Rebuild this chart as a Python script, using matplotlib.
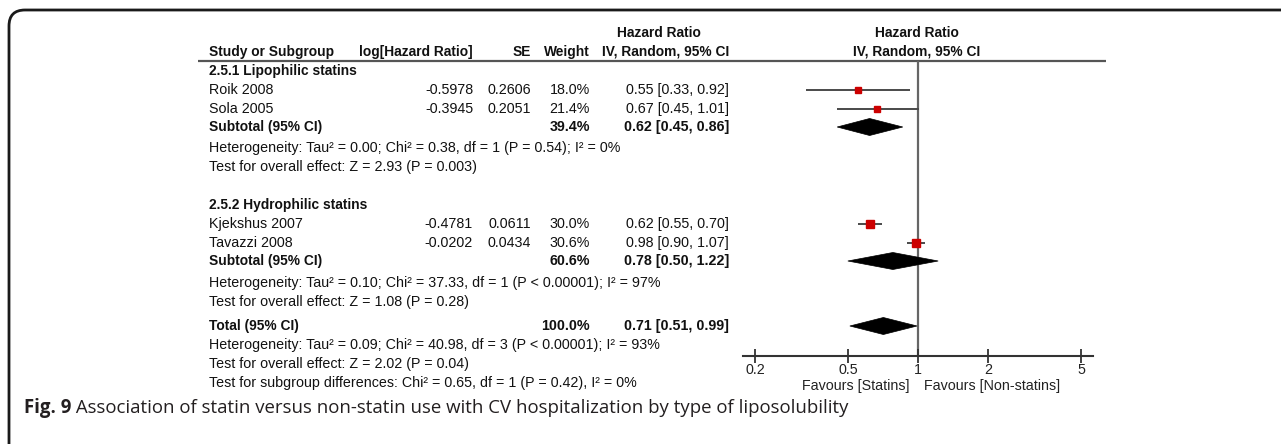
import matplotlib
matplotlib.use("Agg")
import matplotlib.pyplot as plt
from matplotlib.path import Path
from matplotlib.patches import PathPatch, Polygon
from matplotlib.ticker import FixedLocator, FixedFormatter, NullLocator

# ---------------- data ----------------
group_names = ["2.5.1 Lipophilic statins", "2.5.2 Hydrophilic statins"]
studies = ["Roik 2008", "Sola 2005", "Kjekshus 2007", "Tavazzi 2008"]
log_hr = [-0.5978, -0.3945, -0.4781, -0.0202]
se = [0.2606, 0.2051, 0.0611, 0.0434]
weight = [18.0, 21.4, 30.0, 30.6]
hr = [0.55, 0.67, 0.62, 0.98]
ci_low = [0.33, 0.45, 0.55, 0.90]
ci_high = [0.92, 1.01, 0.70, 1.07]

sub_weight = [39.4, 60.6]
sub_hr = [0.62, 0.78]
sub_low = [0.45, 0.50]
sub_high = [0.86, 1.22]

total_weight = 100.0
total_hr = 0.71
total_low = 0.51
total_high = 0.99

heterogeneity = [
    "Heterogeneity: Tau² = 0.00; Chi² = 0.38, df = 1 (P = 0.54); I² = 0%",
    "Heterogeneity: Tau² = 0.10; Chi² = 37.33, df = 1 (P < 0.00001); I² = 97%",
]
overall = [
    "Test for overall effect: Z = 2.93 (P = 0.003)",
    "Test for overall effect: Z = 1.08 (P = 0.28)",
]
total_het = "Heterogeneity: Tau² = 0.09; Chi² = 40.98, df = 3 (P < 0.00001); I² = 93%"
total_overall = "Test for overall effect: Z = 2.02 (P = 0.04)"
subgroup_test = "Test for subgroup differences: Chi² = 0.65, df = 1 (P = 0.42), I² = 0%"

tick_values = [0.2, 0.5, 1, 2, 5]
tick_labels = ["0.2", "0.5", "1", "2", "5"]
favours_left = "Favours [Statins]"
favours_right = "Favours [Non-statins]"
caption_bold = "Fig. 9"
caption_text = " Association of statin versus non-statin use with CV hospitalization by type of liposolubility"

# ---------------- layout (pixels) ----------------
W, H = 1281, 444
FONT = "Liberation Sans"
FS = 10.3
FS_HEAD = 9.9
TXT = "#111111"

group_y = [71, 205]
study_y = [90, 109, 224, 243]
sub_y = [127, 261]
het_y = [148, 283]
ovr_y = [167, 302]
total_y = 326
total_het_y = 345
total_ovr_y = 364
subgroup_y = 383
axis_y = 356
head_line_y = 61

x_name = 209
x_log = 473
x_se = 531
x_w = 590
x_ci = 729

fig = plt.figure(figsize=(W / 100, H / 100), dpi=100)
bg = fig.add_axes([0, 0, 1, 1])
bg.set_xlim(0, W)
bg.set_ylim(H, 0)
bg.axis("off")

def t(x, y, s, ha="left", bold=False, **kw):
    return bg.text(x, y, s, ha=ha, va="center", fontsize=kw.pop("fs", FS),
                   fontweight="bold" if bold else "normal",
                   family=kw.pop("family", FONT), color=kw.pop("color", TXT), **kw)

# frame with rounded corner
r = 16
frame = Path([(9, H + 2), (9, 10 + r), (9, 10), (9 + r, 10), (W + 2, 10)],
             [Path.MOVETO, Path.LINETO, Path.CURVE3, Path.CURVE3, Path.LINETO])
bg.add_patch(PathPatch(frame, fill=False, lw=2.0, edgecolor="#1a1a1a"))

# headers
t(659, 33, "Hazard Ratio", ha="center", bold=True, fs=FS_HEAD)
t(917, 33, "Hazard Ratio", ha="center", bold=True, fs=FS_HEAD)
t(x_name, 52, "Study or Subgroup", bold=True, fs=FS_HEAD)
t(x_log, 52, "log[Hazard Ratio]", ha="right", bold=True, fs=FS_HEAD)
t(x_se, 52, "SE", ha="right", bold=True, fs=FS_HEAD)
t(x_w, 52, "Weight", ha="right", bold=True, fs=FS_HEAD)
t(x_ci, 52, "IV, Random, 95% CI", ha="right", bold=True, fs=FS_HEAD)
t(917, 52, "IV, Random, 95% CI", ha="center", bold=True, fs=FS_HEAD)
bg.plot([198, 1106], [head_line_y, head_line_y], color="#555555", lw=1.6,
        solid_capstyle="butt")

# rows
for g in range(2):
    t(x_name, group_y[g], group_names[g], bold=True, fs=FS_HEAD)
    t(x_name, sub_y[g], "Subtotal (95% CI)", bold=True, fs=FS_HEAD)
    t(x_w, sub_y[g], f"{sub_weight[g]:.1f}%", ha="right", bold=True)
    t(x_ci, sub_y[g], f"{sub_hr[g]:.2f} [{sub_low[g]:.2f}, {sub_high[g]:.2f}]",
      ha="right", bold=True)
    t(x_name, het_y[g], heterogeneity[g])
    t(x_name, ovr_y[g], overall[g])

for i, name in enumerate(studies):
    y = study_y[i]
    t(x_name, y, name)
    t(x_log, y, f"{log_hr[i]:.4f}", ha="right")
    t(x_se, y, f"{se[i]:.4f}", ha="right")
    t(x_w, y, f"{weight[i]:.1f}%", ha="right")
    t(x_ci, y, f"{hr[i]:.2f} [{ci_low[i]:.2f}, {ci_high[i]:.2f}]", ha="right")

t(x_name, total_y, "Total (95% CI)", bold=True, fs=FS_HEAD)
t(x_w, total_y, f"{total_weight:.1f}%", ha="right", bold=True)
t(x_ci, total_y, f"{total_hr:.2f} [{total_low:.2f}, {total_high:.2f}]", ha="right", bold=True)
t(x_name, total_het_y, total_het)
t(x_name, total_ovr_y, total_overall)
t(x_name, subgroup_y, subgroup_test)

# ---------------- forest plot ----------------
fx0, fx1 = 743, 1093
ax = fig.add_axes([fx0 / W, (H - axis_y) / H, (fx1 - fx0) / W, (axis_y - head_line_y) / H])
ax.set_xscale("log")
ax.set_xlim(0.1775, 5.63)
ax.set_ylim(axis_y, head_line_y)
ax.patch.set_alpha(0)
for s in ("top", "left", "right"):
    ax.spines[s].set_visible(False)
ax.spines["bottom"].set_color("#333333")
ax.spines["bottom"].set_linewidth(1.5)
ax.yaxis.set_major_locator(NullLocator())
ax.xaxis.set_major_locator(FixedLocator(tick_values))
ax.xaxis.set_major_formatter(FixedFormatter(tick_labels))
ax.xaxis.set_minor_locator(NullLocator())
ax.tick_params(axis="x", direction="inout", length=10, width=1.3, color="#333333",
               labelsize=FS, labelcolor="#222222", pad=0)
for lab in ax.get_xticklabels():
    lab.set_family(FONT)

ax.axvline(1, color="#666666", lw=1.6, zorder=1)

for i in range(len(studies)):
    y = study_y[i]
    ax.plot([ci_low[i], ci_high[i]], [y, y], color="#4a4a4a", lw=1.4, zorder=2,
            solid_capstyle="butt")
    ax.plot(hr[i], y, marker="s", ms=weight[i] ** 0.5 * 1.05, color="#cc0000",
            mec="#cc0000", zorder=3)

def diamond(c, lo, hi, y, h=8.5):
    ax.add_patch(Polygon([(lo, y), (c, y - h), (hi, y), (c, y + h)], closed=True,
                         facecolor="black", edgecolor="black", lw=0.5, zorder=4))

for g in range(2):
    diamond(sub_hr[g], sub_low[g], sub_high[g], sub_y[g])
diamond(total_hr, total_low, total_high, total_y)

t(910, 386, favours_left, ha="right", color="#222222")
t(924, 386, favours_right, ha="left", color="#222222")

# caption
cap_y = 408
cb = bg.text(24, cap_y, caption_bold, ha="left", va="center", fontsize=13.4,
             fontweight="bold", family="Open Sans", color="#231f20")
fig.canvas.draw()
bb = cb.get_window_extent(fig.canvas.get_renderer())
x_after = bg.transData.inverted().transform((bb.x1, 0))[0]
bg.text(x_after, cap_y, caption_text, ha="left", va="center", fontsize=13.4,
        family="Open Sans", color="#231f20")

fig.savefig("out.png", dpi=100, facecolor="white")
